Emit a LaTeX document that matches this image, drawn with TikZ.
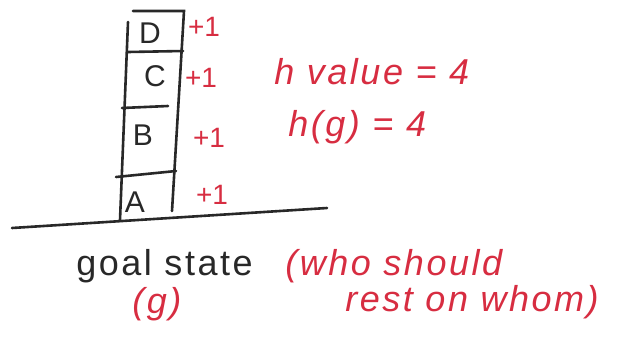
\documentclass[tikz,border=0pt]{standalone}
\usepackage{fontspec}
\setmainfont{Liberation Sans}
\newfontfamily\wideface[LetterSpace=7]{Liberation Sans}
\definecolor{ink}{RGB}{40,40,40}
\definecolor{redink}{RGB}{215,45,65}
\begin{document}
\begin{tikzpicture}[x=0.5pt,y=-0.5pt,
  pen/.style={draw=ink,line width=1.3pt,line cap=round},
  blk/.style={text=ink,font=\fontsize{15}{17}\selectfont,inner sep=0pt},
  plus/.style={text=redink,font=\fontsize{14}{16}\selectfont,inner sep=0pt},
  rnote/.style={text=redink,font=\wideface\itshape\fontsize{18}{20}\selectfont,inner sep=0pt,anchor=west},
  bnote/.style={text=ink,font=\wideface\fontsize{18}{20}\selectfont,inner sep=0pt,anchor=west}]
\useasboundingbox (0,0) rectangle (640,338);
% stack outline
\coordinate (tl) at (133,11);
\coordinate (tr) at (184,11);
\coordinate (ltop) at (128,22);
\coordinate (lbot) at (120,220);
\coordinate (rbot) at (172,211);
\coordinate (g1) at (12,228);
\coordinate (g2) at (327,208);
\draw[pen] (tl) -- (tr) -- (rbot);
\draw[pen] (ltop) -- (lbot);
\draw[pen] (128,52) -- (183,51);
\draw[pen] (122,108) -- (168,106);
\draw[pen] (116,177) -- (176,171);
\draw[pen] (g1) -- (g2);
% block labels
\node[blk] (D) at (150,33) {D};
\node[blk] (C) at (155,76) {C};
\node[blk] (B) at (143,135) {B};
\node[blk] (A) at (135,202) {A};
% +1 labels
\node[plus] (pD) at (204,27) {+1};
\node[plus] (pC) at (201,78) {+1};
\node[plus] (pB) at (209,138) {+1};
\node[plus] (pA) at (212,195) {+1};
% notes
\node[rnote] (hv) at (274,72) {h value = 4};
\node[rnote] (hg) at (288,127) {h(g) = 4};
\node[bnote] (gs) at (76,266) {goal state};
\node[rnote] (g) at (132,304) {(g)};
\node[rnote] (w1) at (285,266) {(who should};
\node[rnote] (w2) at (345,302) {rest on whom)};
\end{tikzpicture}
\end{document}
